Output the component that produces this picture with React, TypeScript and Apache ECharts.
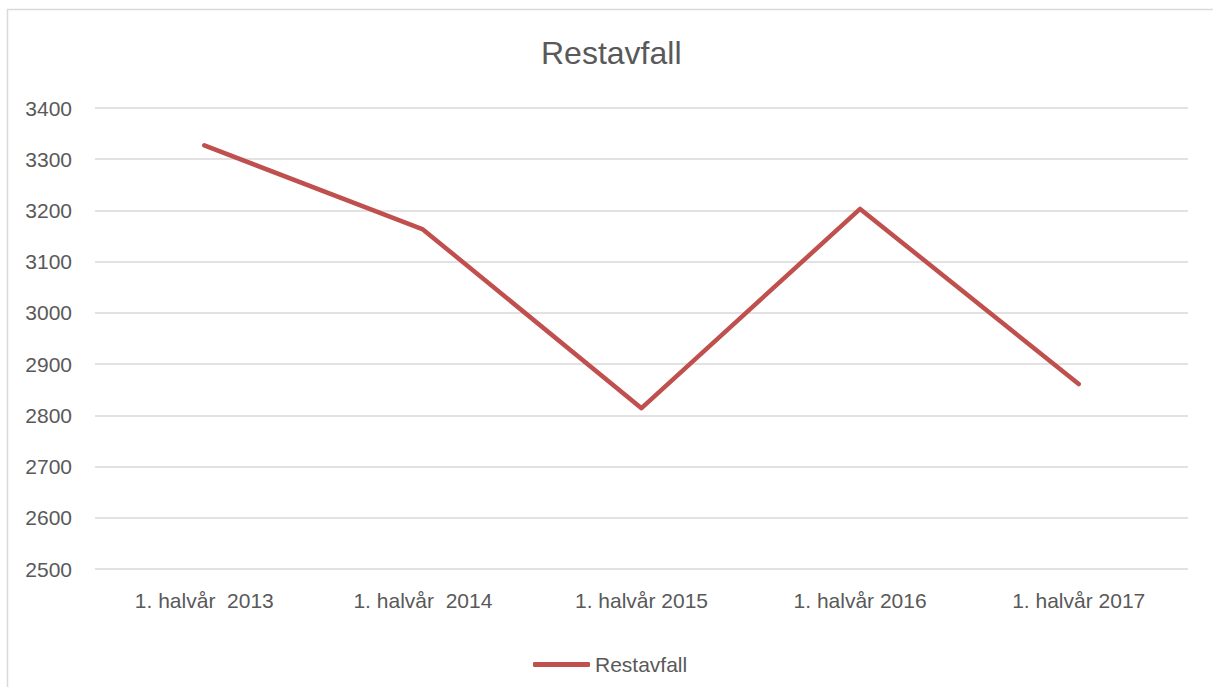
import React, { useEffect, useRef } from "react";
import * as echarts from "echarts";

const categories = [
  "1. halvår  2013",
  "1. halvår  2014",
  "1. halvår 2015",
  "1. halvår 2016",
  "1. halvår 2017",
];
const restavfall = [3327, 3163, 2814, 3203, 2861];
const yMin = 2500;
const yMax = 3400;
const yInterval = 100;

const FONT = "'Liberation Sans', Arial, sans-serif";
const TEXT = "#595959";

export default function App() {
  const ref = useRef<HTMLDivElement>(null);
  useEffect(() => {
    if (!ref.current) return;
    const chart = echarts.init(ref.current, undefined, { renderer: "svg" });
    chart.setOption({
      animation: false,
      backgroundColor: "#ffffff",
      textStyle: { fontFamily: FONT },
      title: {
        text: "Restavfall",
        left: 536,
        top: 32,
        textStyle: { fontFamily: FONT, fontSize: 32, fontWeight: "normal", color: TEXT },
      },
      graphic: [
        {
          type: "rect",
          shape: { x: 7.5, y: 9.5, width: 1220, height: 700 },
          style: { fill: "none", stroke: "#d9d9d9", lineWidth: 1.5 },
          silent: true,
        },
      ],
      legend: {
        data: ["Restavfall"],
        left: 528,
        top: 649,
        itemWidth: 57,
        itemHeight: 5,
        icon: "roundRect",
        textStyle: { fontFamily: FONT, fontSize: 21, color: TEXT },
      },
      grid: { left: 95, right: 25, top: 108, bottom: 118, containLabel: false },
      xAxis: {
        type: "category",
        data: categories,
        boundaryGap: true,
        axisLine: { show: false },
        axisTick: { show: false },
        axisLabel: { fontFamily: FONT, fontSize: 21, color: TEXT, margin: 21, interval: 0 },
        splitLine: { show: false },
      },
      yAxis: {
        type: "value",
        min: yMin,
        max: yMax,
        interval: yInterval,
        axisLine: { show: false },
        axisTick: { show: false },
        axisLabel: {
          fontFamily: FONT,
          fontSize: 21,
          color: TEXT,
          margin: 23,
          formatter: (v: number) => String(v),
        },
        splitLine: { show: true, lineStyle: { color: "#d9d9d9", width: 1.5 } },
      },
      series: [
        {
          name: "Restavfall",
          type: "line",
          data: restavfall,
          showSymbol: false,
          symbol: "none",
          lineStyle: { color: "#c0504d", width: 4.5, cap: "round", join: "round" },
          itemStyle: { color: "#c0504d" },
        },
      ],
    });
    return () => chart.dispose();
  }, []);
  return (
    <div
      ref={ref}
      style={{ position: "absolute", left: 0, top: 0, width: 1213, height: 687 }}
    />
  );
}
